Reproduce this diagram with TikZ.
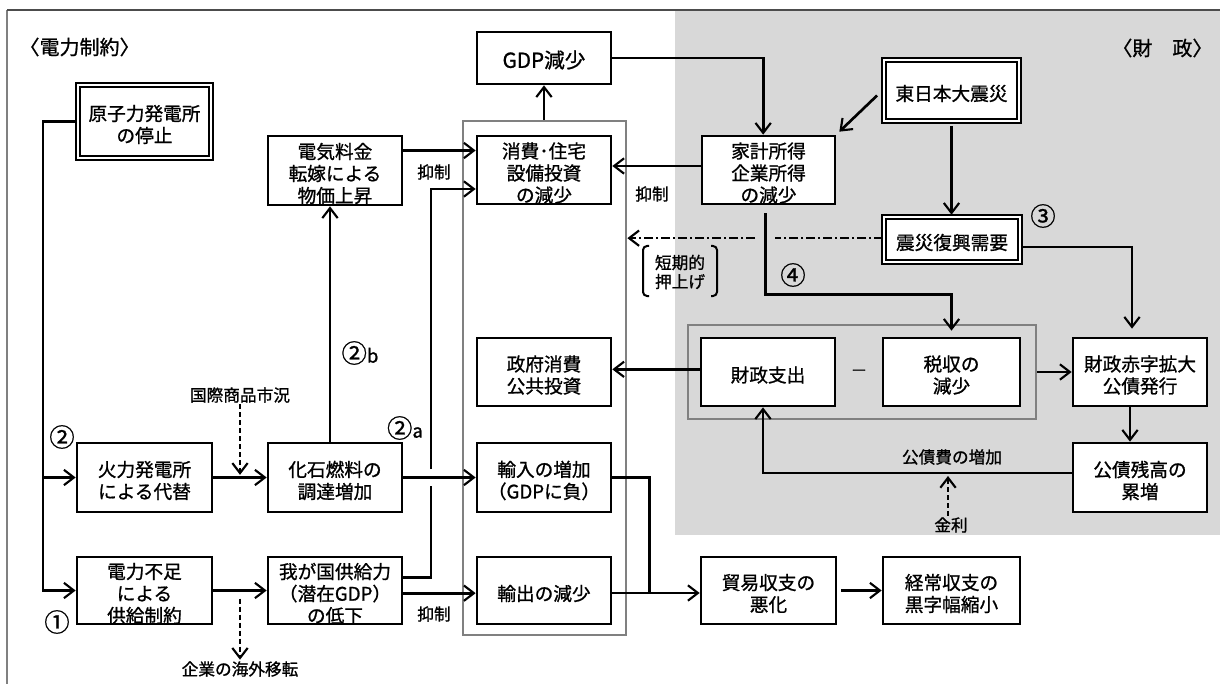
\documentclass[tikz,border=0pt]{standalone}
\usepackage{fontspec}
\setmainfont{Noto Sans CJK JP}[FakeBold=1]
\usetikzlibrary{arrows.meta,fit,calc}
\definecolor{bggray}{HTML}{D8D8D8}
\definecolor{framegray}{HTML}{808080}
\newcommand{\smltxt}{\fontsize{14}{16}\selectfont}
\newcommand{\mkbox}[5][box]{%
  \node[#1, fit={#3 #4}] (#2) {};
  \node[btxt] (#2t) at ($(#2.center)+(0,3)$) {#5};}
\begin{document}
\begin{tikzpicture}[x=0.75pt,y=-0.75pt,
  box/.style={draw, line width=2pt, fill=white, inner sep=0pt},
  dbox/.style={box, double=white, double distance=1.6pt, line width=1.4pt},
  btxt/.style={align=center, inner sep=0pt, font=\fontsize{14}{16.5}\selectfont},
  lbl/.style={inner sep=1pt, align=center, font=\fontsize{12.5}{14.25}\selectfont},
  num/.style={inner sep=0pt, font=\fontsize{19}{20}\selectfont},
  ln/.style={line width=2pt},
  tip/.style={-{Straight Barb[length=7.5pt,width=11.5pt,line width=1.6pt]}},
  conn/.style={ln, tip},
  dconn/.style={conn, dash pattern=on 3.75pt off 2.25pt},
  ddconn/.style={conn, dash pattern=on 6.75pt off 2.25pt on 1.5pt off 2.25pt},
  ddline/.style={ln, dash pattern=on 6.75pt off 2.25pt on 1.5pt off 2.25pt},
  frm/.style={draw=framegray, line width=2pt, inner sep=0pt},
]
\useasboundingbox (0,0) rectangle (1220,684);
\fill[white] (0,0) rectangle (1220,684);
\fill[bggray] (675,10) rectangle (1220,535);
\draw[framegray, line width=2.2pt] (7,10) -- (7,684);
\draw[black!70, line width=0.9pt] (7,10) -- (1220,10);

% frames
\node[frm, fit={(463,121)(626,635)}] (mf) {};
\node[frm, fit={(688,325)(1036,419)}] (ff) {};

% boxes
\mkbox[dbox]{gen}{(78,85)}{(211,158)}{原子力発電所\\の停止}
\mkbox{den}{(268,136)}{(402,205)}{電気料金\\転嫁による\\物価上昇}
\node[box, fit={(477,32)(611,84)}] (gdp) {};
\node[btxt, font=\fontsize{15.5}{17}\selectfont] (gdpt) at ($(gdp.center)+(0,2)$) {GDP減少};
\mkbox{sho}{(477,136)}{(611,204)}{消費･住宅\\設備投資\\の減少}
\mkbox{kak}{(702,136)}{(835,204)}{家計所得\\企業所得\\の減少}
\mkbox[dbox]{hig}{(884,60)}{(1019,121)}{東日本大震災}
\mkbox[dbox]{shin}{(884,217)}{(1020,262)}{震災復興需要}
\mkbox{sei}{(477,338)}{(611,406)}{政府消費\\公共投資}
\mkbox{zai}{(701,338)}{(835,406)}{財政支出}
\mkbox{zei}{(883,338)}{(1020,406)}{税収の\\減少}
\mkbox{aka}{(1073,338)}{(1207,406)}{財政赤字拡大\\公債発行}
\mkbox{zan}{(1073,443)}{(1207,512)}{公債残高の\\累増}
\mkbox{kar}{(77,443)}{(212,512)}{火力発電所\\による代替}
\mkbox{kas}{(268,443)}{(402,512)}{化石燃料の\\調達増加}
\mkbox{fus}{(77,557)}{(212,624)}{電力不足\\による\\供給制約}
\mkbox{kyo}{(268,557)}{(402,624)}{我が国供給力\\（潜在GDP）\\の低下}
\mkbox{yun}{(477,443)}{(611,512)}{輸入の増加\\（GDPに負）}
\mkbox{yus}{(477,557)}{(611,624)}{輸出の減少}
\mkbox{bou}{(701,557)}{(836,624)}{貿易収支の\\悪化}
\mkbox{kei}{(883,557)}{(1020,624)}{経常収支の\\黒字幅縮小}

% titles and labels
\node[lbl, font=\fontsize{15}{17}\selectfont, anchor=west] (t1) at (18,47) {〈電力制約〉};
\node[lbl, font=\fontsize{15}{17}\selectfont, anchor=east] (t2) at (1214,48) {〈財　政〉};
\node[lbl] (ksh) at (240,395) {国際商品市況};
\node[lbl] (kig) at (240,669) {企業の海外移転};
\node[lbl] (yk1) at (434,172) {抑制};
\node[lbl] (yk2) at (434,614) {抑制};
\node[lbl] (yk3) at (652,194) {抑制};
\node[lbl] (tan) at (680,272) {短期的\\押上げ};
\node[lbl] (kos) at (952,457) {公債費の増加};
\node[lbl] (kin) at (951,525) {金利};
\node[lbl] (minus) at (859,373) {－};

\node[num] (n1) at (57,622) {①};
\node[num] (n2) at (62,437) {②};
\node[num] (n2a) at (405,428) {②{\smltxt a}};
\node[num] (n2b) at (360,353) {②{\smltxt b}};
\node[num] (n3) at (1043,216) {③};
\node[num] (n4) at (793,275) {④};

% brackets
\draw[line width=1.5pt, rounded corners=3pt] (649,246) -- (643,246) -- (643,296) -- (649,296);
\draw[line width=1.5pt, rounded corners=3pt] (711,246) -- (717,246) -- (717,296) -- (711,296);

% connectors
\coordinate (trunk) at (43,0);
\draw[conn] (gen.west) -| (trunk |- kar.west) -- (kar.west);
\draw[conn] (trunk |- kar.west) -- (trunk |- fus.west) -- (fus.west);
\draw[conn] (kar.east) -- (kas.west);
\draw[dconn, shorten >=2pt] (ksh.south) -- (ksh.south |- kar.east);
\draw[conn] ([xshift=-3.75pt]kas.north) -- ([xshift=-3.75pt]den.south);
\draw[conn] (kas.east) -- (yun.west);
\coordinate (v) at (431,0);
\draw[ln] ([yshift=10pt]kyo.east) -| ($(v |- kas.east)+(0,8.5)$);
\draw[conn] ($(v |- kas.east)+(0,-8.5)$) |- ([yshift=-14.25pt]sho.west);
\draw[conn] ([yshift=-2pt]kyo.east) -- ([yshift=-2pt]kyo.east -| yus.west);
\draw[conn] (fus.east) -- (kyo.west);
\draw[dconn] ($(fus.east)!0.5!(kyo.west)+(0,8)$) -- (kig.north);
\draw[conn] ([yshift=15pt]den.east) -- ([yshift=15pt]den.east -| sho.west);
\draw[conn] (gdp.south |- mf.north) -- (gdp.south);
\draw[conn] (gdp.east) -| ([xshift=-4pt]kak.north);
\draw[conn] ([yshift=3pt]kak.west) -- ([yshift=3pt]kak.west -| sho.east);
\draw[conn] ($(hig.west)+(-6,5)$) -- ($(kak.north east)+(3,-3)$);
\draw[conn, shorten <=3pt, shorten >=1pt] (hig.south) -- (hig.south |- shin.north);
\coordinate (g1) at (775,0);
\coordinate (g2) at (755,0);
\draw[ddline] ([yshift=1pt]shin.west) -- ([yshift=1pt]g1 |- shin.west);
\draw[ddconn] ([yshift=1pt]g2 |- shin.west) -- ([yshift=1pt]mf.east |- shin.west);
\draw[conn] ($(kak.south)+(-3,8)$) |- ($(zei.north)+(0,-42)$) -- ($(zei.north)+(0,-6)$);
\draw[conn] ([yshift=-5.6pt]shin.east) -| ($(aka.north)+(-8,-8)$);
\draw[conn] (ff.east) -- (ff.east -| aka.west);
\draw[conn] ([yshift=2pt]zai.west) -- ([yshift=2pt]zai.west -| sei.east);
\draw[conn] ([xshift=-7.5pt]aka.south) -- ([xshift=-7.5pt]zan.north);
\draw[conn] ([yshift=3.4pt]zan.west) -| ([xshift=-3.75pt]zai.south);
\coordinate (kinT) at (948,476);
\draw[dconn] (kin.north -| kinT) -- (kinT);
\coordinate (j) at ($(yus.east)+(37,2.5)$);
\draw[ln] (yun.east) -| (j);
\draw[conn] ($(yus.east)+(0,2.5)$) -- (j -| bou.west);
\draw[conn] ($(bou.east)+(4,0)$) -- (kei.west);
\end{tikzpicture}
\end{document}
